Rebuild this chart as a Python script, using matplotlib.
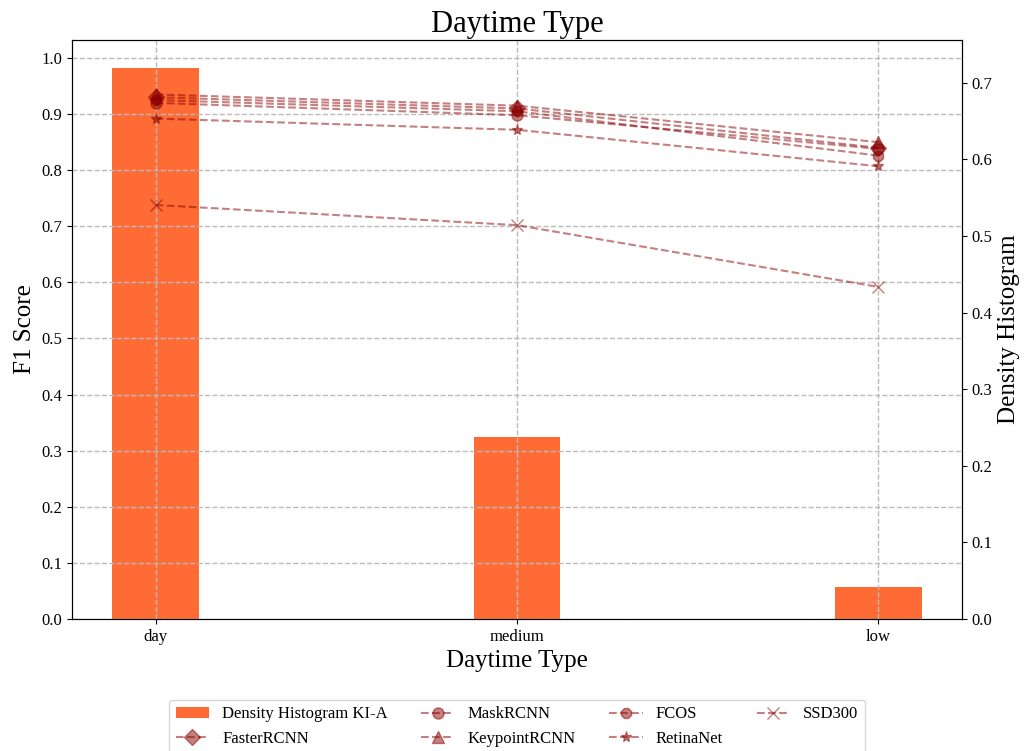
import matplotlib

matplotlib.use("Agg")
import matplotlib.pyplot as plt
import numpy as np

plt.rcParams["font.family"] = ["Liberation Serif", "DejaVu Serif"]

categories = ["day", "medium", "low"]
density = [0.72, 0.238, 0.042]

faster_rcnn = [0.930, 0.910, 0.840]
mask_rcnn = [0.920, 0.898, 0.838]
keypoint_rcnn = [0.935, 0.915, 0.850]
fcos = [0.925, 0.905, 0.826]
retinanet = [0.892, 0.872, 0.807]
ssd300 = [0.738, 0.702, 0.592]

models = [
    ("FasterRCNN", faster_rcnn, "D"),
    ("MaskRCNN", mask_rcnn, "o"),
    ("KeypointRCNN", keypoint_rcnn, "^"),
    ("FCOS", fcos, "8"),
    ("RetinaNet", retinanet, "*"),
    ("SSD300", ssd300, "x"),
]

x = np.arange(len(categories))

fig, ax = plt.subplots(figsize=(10.25, 7.51), dpi=100)
fig.subplots_adjust(left=0.0702, right=0.9385, top=0.9467, bottom=0.1758)
ax2 = ax.twinx()

bars = ax2.bar(x, density, width=0.24, color="#FF6B35", label="Density Histogram KI-A")
ax2.set_ylabel("Density Histogram", fontsize=18)
ax2.tick_params(labelsize=12)

# keep the F1 lines and grid above the bars
ax.set_zorder(ax2.get_zorder() + 1)
ax.patch.set_visible(False)

handles = [bars]
for name, vals, marker in models:
    (h,) = ax.plot(x, vals, linestyle="--", marker=marker, color="#8B0000",
                   alpha=0.5, markersize=8, label=name)
    handles.append(h)

ax.set_ylim(0, 1.032)
ax.set_yticks(np.arange(0, 1.01, 0.1))
ax.set_xticks(x)
ax.set_xticklabels(categories)
ax.tick_params(labelsize=12)
ax.grid(True, linestyle="--", color="#bbbbbb", linewidth=1)
ax.set_xlabel("Daytime Type", fontsize=18)
ax.set_ylabel("F1 Score", fontsize=18)
ax.set_title("Daytime Type", fontsize=22)

ax.legend(handles=handles, loc="upper center", bbox_to_anchor=(0.5, -0.125),
          ncol=4, fontsize=12, frameon=True, columnspacing=2.0)

fig.savefig("out.png", dpi=100)
